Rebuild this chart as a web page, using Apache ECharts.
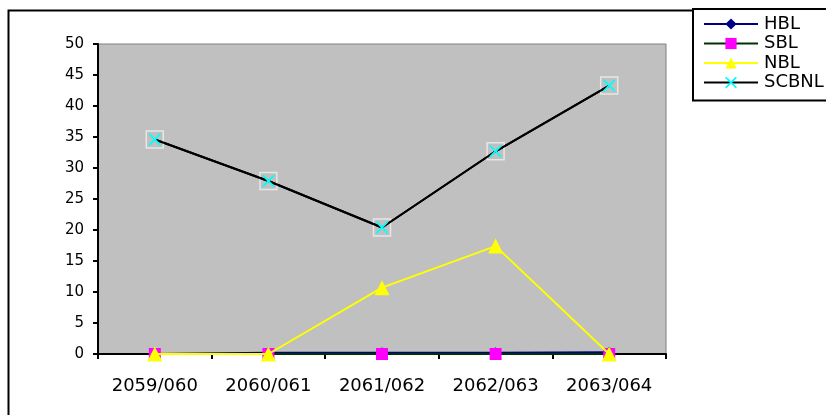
<!DOCTYPE html>
<html>
<head>
<meta charset="utf-8">
<script src="https://cdn.jsdelivr.net/npm/echarts@6/dist/echarts.min.js"></script>
<style>
  html, body { margin: 0; padding: 0; background: #fff; }
  #chart { width: 826px; height: 415px; }
</style>
</head>
<body>
<div id="chart"></div>
<script>
// Fiscal years (Nepali calendar)
const years = ['2059/060', '2060/061', '2061/062', '2062/063', '2063/064'];

// Values per bank
const hbl = [0, 0.2, 0.2, 0.2, 0.3];
const sbl = [0, 0, 0, 0, 0];
const nbl = [0, 0, 10.7, 17.4, 0];
const scbnl = [34.6, 27.9, 20.4, 32.7, 43.3];

const yTicks = { min: 0, max: 50, step: 5 };

// Excel-style "x" marker drawn as a filled outline
const crossPath = 'path://M0,0 L2.2,0 L10,7.8 L17.8,0 L20,0 L20,2.2 L12.2,10 L20,17.8 L20,20 L17.8,20 L10,12.2 L2.2,20 L0,20 L0,17.8 L7.8,10 L0,2.2 Z';

const chart = echarts.init(document.getElementById('chart'), null, { renderer: 'canvas' });

const baseFont = 'DejaVu Sans';

chart.setOption({
  animation: false,
  backgroundColor: '#ffffff',
  graphic: [
    {
      type: 'rect',
      left: 6, top: 8,
      shape: { x: 0, y: 0, width: 840, height: 430 },
      style: { fill: 'none', stroke: '#000', lineWidth: 2 },
      z: 0
    }
  ],
  legend: {
    orient: 'vertical',
    left: 693, top: 9,
    padding: [6, 80, 9, 10],
    itemGap: 1.5,
    itemWidth: 54,
    itemHeight: 14,
    borderColor: '#000',
    borderWidth: 2,
    backgroundColor: '#fff',
    textStyle: { fontFamily: baseFont, fontSize: 18, color: '#000', padding: [0, 0, 0, 1] },
    data: ['HBL', 'SBL', 'NBL', 'SCBNL']
  },
  grid: {
    left: 98, top: 44, width: 568, height: 310,
    show: true,
    backgroundColor: '#c0c0c0',
    borderColor: '#808080',
    borderWidth: 1
  },
  xAxis: {
    type: 'category',
    data: years,
    boundaryGap: true,
    axisLine: { lineStyle: { color: '#000', width: 2 } },
    axisTick: { show: true, length: 5, lineStyle: { color: '#000', width: 2 } },
    axisLabel: { fontFamily: baseFont, fontSize: 18, color: '#000', margin: 23 },
    splitLine: { show: false }
  },
  yAxis: {
    type: 'value',
    min: yTicks.min, max: yTicks.max, interval: yTicks.step,
    axisLine: { show: true, lineStyle: { color: '#000', width: 2 } },
    axisTick: { show: true, length: 5, lineStyle: { color: '#000', width: 2 } },
    axisLabel: { fontFamily: baseFont, fontSize: 15, color: '#000', margin: 14 },
    splitLine: { show: false }
  },
  series: [
    {
      name: 'HBL', type: 'line', data: hbl,
      symbol: 'diamond', symbolSize: 11,
      itemStyle: { color: '#000080' },
      lineStyle: { color: '#000080', width: 2 },
      z: 2
    },
    {
      name: 'SBL', type: 'line', data: sbl,
      symbol: 'rect', symbolSize: 12,
      itemStyle: { color: '#ff00ff' },
      lineStyle: { color: '#003300', width: 2 },
      z: 3
    },
    {
      name: 'NBL', type: 'line', data: nbl,
      symbol: 'triangle', symbolSize: 15,
      itemStyle: { color: '#ffff00' },
      lineStyle: { color: '#ffff00', width: 2 },
      z: 4
    },
    {
      name: 'SCBNL-frame', type: 'line', data: scbnl,
      symbol: 'rect', symbolSize: 17,
      itemStyle: { color: 'rgba(0,0,0,0)', borderColor: '#e6e6e6', borderWidth: 1.5 },
      lineStyle: { color: '#000', width: 2 },
      z: 5
    },
    {
      name: 'SCBNL', type: 'line', data: scbnl,
      symbol: crossPath, symbolSize: 12,
      itemStyle: { color: '#00ffff' },
      lineStyle: { color: '#000', width: 2 },
      z: 6
    }
  ]
});
</script>
</body>
</html>
